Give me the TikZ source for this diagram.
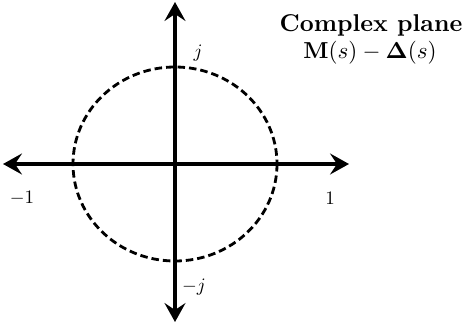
\documentclass[tikz,border=0pt]{standalone}
\usepackage{amsmath}
\usepackage{amssymb}
\usetikzlibrary{arrows.meta, positioning}

\begin{document}
\begin{tikzpicture}[
    x=1pt, y=-1pt,
    axis/.style={{Stealth[length=19pt, width=21pt, inset=7pt]}-{Stealth[length=19pt, width=21pt, inset=7pt]}, line width=3.2pt},
    ring/.style={line width=2.8pt, dash pattern=on 7.5pt off 4pt},
    tick/.style={scale=1.9, inner sep=0pt},
    title/.style={font=\bfseries, scale=2.43, inner sep=0pt, anchor=base},
]
\useasboundingbox (0,0) rectangle (468,329);

% Axis ends
\coordinate (O) at (175,164);
\coordinate (west) at (3,164);
\coordinate (east) at (349,164);
\coordinate (north) at (175,2);
\coordinate (south) at (175,322);

% Dashed circle
\draw[ring] (O) ellipse [x radius=102, y radius=97];

% Axes
\draw[axis] (west) -- (east);
\draw[axis] (south) -- (north);

% Tick labels
\node[tick] (pj) at (198,53) {$j$};
\node[tick] (mj) at (194,287) {$-j$};
\node[tick] (m1) at (22,198) {$-1$};
\node[tick] (p1) at (330,198) {$1$};

% Title
\node[title] (plane) at (371,32) {Complex plane};
\node[title, scale=0.95] (diff) at (370,59) {$\mathbf{M}(s)-\boldsymbol{\Delta}(s)$};

\end{tikzpicture}
\end{document}
